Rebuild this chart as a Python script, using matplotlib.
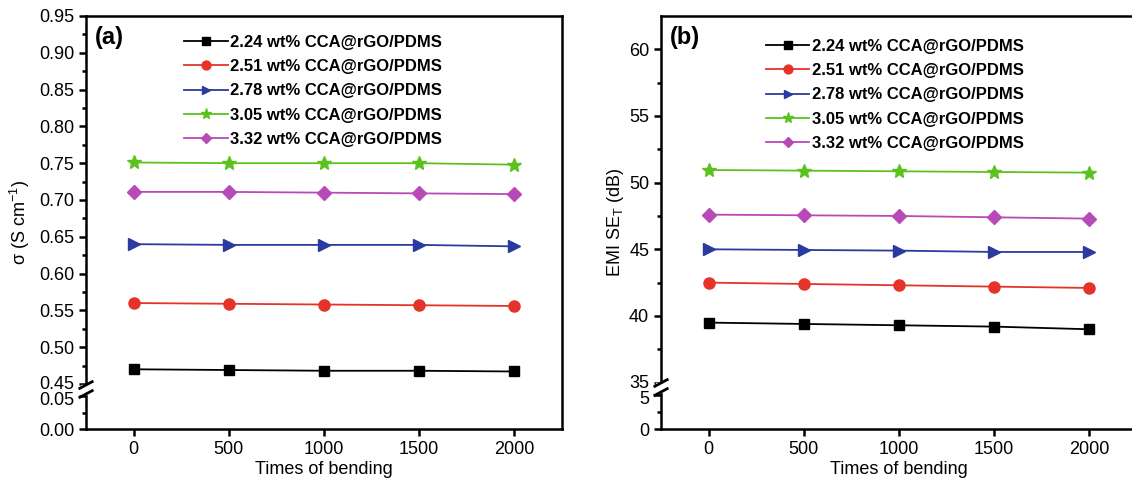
import numpy as np
import matplotlib.pyplot as plt
import matplotlib.transforms as mtransforms
from matplotlib.lines import Line2D
from matplotlib.patches import Rectangle

plt.rcParams['font.family'] = ['Liberation Sans', 'DejaVu Sans']
plt.rcParams['mathtext.fontset'] = 'custom'
plt.rcParams['mathtext.rm'] = 'Liberation Sans'
plt.rcParams['mathtext.it'] = 'Liberation Sans:italic'

# Datos: número de flexiones y curvas por concentración
bending = [0, 500, 1000, 1500, 2000]
labels = ["2.24 wt% CCA@rGO/PDMS", "2.51 wt% CCA@rGO/PDMS", "2.78 wt% CCA@rGO/PDMS",
          "3.05 wt% CCA@rGO/PDMS", "3.32 wt% CCA@rGO/PDMS"]

sigma_224 = [0.470, 0.469, 0.468, 0.468, 0.467]
sigma_251 = [0.560, 0.559, 0.558, 0.557, 0.556]
sigma_278 = [0.640, 0.639, 0.639, 0.639, 0.637]
sigma_305 = [0.751, 0.750, 0.750, 0.750, 0.748]
sigma_332 = [0.711, 0.711, 0.710, 0.709, 0.708]

emi_224 = [39.5, 39.4, 39.3, 39.2, 39.0]
emi_251 = [42.5, 42.4, 42.3, 42.2, 42.1]
emi_278 = [45.0, 44.95, 44.9, 44.8, 44.8]
emi_305 = [50.95, 50.9, 50.85, 50.8, 50.75]
emi_332 = [47.6, 47.55, 47.5, 47.4, 47.3]

colors = ['black', '#e5332a', '#2b3a9e', '#5cc21e', '#b84ab8']
markers = ['s', 'o', '>', '*', 'D']
msizes = [7, 8, 8, 10, 7]


def broken_scale(xp, fp):
    # escala lineal por tramos para simular el eje cortado
    xp = np.array([xp[0] - 1000.0] + list(xp) + [xp[-1] + 1000.0])
    s0 = (fp[1] - fp[0]) / (xp[2] - xp[1])
    s1 = (fp[-1] - fp[-2]) / (xp[-2] - xp[-3])
    fp = np.array([fp[0] - 1000.0 * s0] + list(fp) + [fp[-1] + 1000.0 * s1])

    def fwd(v):
        return np.interp(v, xp, fp)

    def inv(v):
        return np.interp(v, fp, xp)
    return fwd, inv


def draw_break(ax, y0, y1):
    # corte en el eje izquierdo (y0, y1 en fracción del eje)
    dx = 0.013
    ax.add_patch(Rectangle((-0.01, y0), 0.02, y1 - y0, transform=ax.transAxes,
                           color='white', clip_on=False, zorder=10))
    for y in (y0, y1):
        ax.add_line(Line2D([-dx, dx], [y - 0.008, y + 0.008], transform=ax.transAxes,
                           color='black', lw=2.0, clip_on=False, zorder=11))


def nudge_label(ax, idx, dy_pt):
    # desplaza verticalmente una etiqueta del eje y
    lab = ax.yaxis.get_major_ticks()[idx].label1
    off = mtransforms.ScaledTranslation(0, dy_pt / 72, ax.figure.dpi_scale_trans)
    lab.set_transform(lab.get_transform() + off)


def style_axes(ax):
    for sp in ax.spines.values():
        sp.set_linewidth(1.8)
    ax.tick_params(axis='both', which='major', direction='out', length=5, width=1.8,
                   labelsize=13, top=False, right=False)
    ax.tick_params(axis='y', which='minor', direction='out', length=3, width=1.8,
                   right=False)
    ax.tick_params(axis='x', which='minor', bottom=False)
    ax.set_xlim(-250, 2250)
    ax.set_xticks(bending)
    ax.set_xlabel('Times of bending', fontsize=13, labelpad=2)


def add_legend(ax, x, y):
    ax.legend(loc='upper left', bbox_to_anchor=(x, y), frameon=False,
              prop={'weight': 'bold', 'size': 12}, handlelength=2.6, handletextpad=0.15,
              labelspacing=0.56, borderaxespad=0.3, markerscale=0.8)


fig = plt.figure(figsize=(11.32, 4.84), dpi=100)
W, H = 1132, 484
ax1 = fig.add_axes([86 / W, 55 / H, 476 / W, 413 / H])
ax2 = fig.add_axes([661 / W, 55 / H, 476 / W, 413 / H])

# (a) conductividad
fwd, inv = broken_scale([0, 0.05, 0.45, 0.95], [0, 33, 45, 413])
ax1.set_yscale('function', functions=(fwd, inv))
for vals, lab, c, m, ms in zip([sigma_224, sigma_251, sigma_278, sigma_305, sigma_332],
                               labels, colors, markers, msizes):
    ax1.plot(bending, vals, color=c, marker=m, markersize=ms, lw=1.3, label=lab)
ax1.set_ylim(0, 0.95)
ax1.set_yticks([0, 0.05] + list(np.round(np.arange(0.45, 0.951, 0.05), 2)))
ax1.set_yticklabels(['%.2f' % v for v in [0, 0.05] + list(np.arange(0.45, 0.951, 0.05))])
ax1.set_yticks([0.025] + list(np.round(np.arange(0.475, 0.93, 0.05), 3)), minor=True)
style_axes(ax1)
ax1.set_ylabel('σ (S cm$^{-1}$)', fontsize=13, labelpad=5)
draw_break(ax1, 35 / 413, 44 / 413)
nudge_label(ax1, 1, -1.5)
nudge_label(ax1, 2, 1.0)
ax1.text(0.018, 0.975, '(a)', transform=ax1.transAxes, fontsize=17, fontweight='bold',
         va='top', ha='left')
add_legend(ax1, 0.182, 0.983)

# (b) apantallamiento EMI
fwd2, inv2 = broken_scale([0, 5, 35, 62.5], [0, 34, 46.4, 413])
ax2.set_yscale('function', functions=(fwd2, inv2))
for vals, lab, c, m, ms in zip([emi_224, emi_251, emi_278, emi_305, emi_332],
                               labels, colors, markers, msizes):
    ax2.plot(bending, vals, color=c, marker=m, markersize=ms, lw=1.3, label=lab)
ax2.set_ylim(0, 62.5)
ax2.set_yticks([0, 5, 35, 40, 45, 50, 55, 60])
ax2.set_yticklabels(['0', '5', '35', '40', '45', '50', '55', '60'])
ax2.set_yticks([2.5, 37.5, 42.5, 47.5, 52.5, 57.5], minor=True)
style_axes(ax2)
ax2.set_ylabel('EMI SE$_\\mathrm{T}$ (dB)', fontsize=13, labelpad=2)
draw_break(ax2, 37 / 413, 46 / 413)
nudge_label(ax2, 1, -2.0)
nudge_label(ax2, 2, 1.0)
ax2.text(0.018, 0.975, '(b)', transform=ax2.transAxes, fontsize=17, fontweight='bold',
         va='top', ha='left')
add_legend(ax2, 0.196, 0.973)

fig.savefig('out.png', dpi=100)
